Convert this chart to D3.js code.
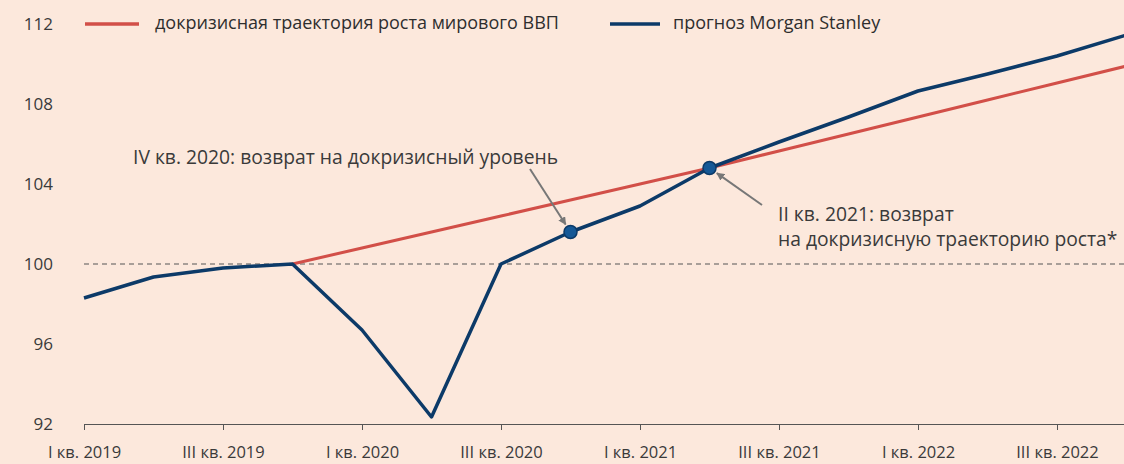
<!DOCTYPE html>
<html>
<head>
<meta charset="utf-8">
<script src="https://cdn.jsdelivr.net/npm/d3@7"></script>
<style>
  body { margin: 0; background: #fce8dc; }
  svg { display: block; font-family: "Open Sans", sans-serif; }
</style>
</head>
<body>
<svg id="chart" width="1124" height="464"></svg>
<script>
// Quartale I кв. 2019 – IV кв. 2022
const quarters = [
  "I кв. 2019", "II кв. 2019", "III кв. 2019", "IV кв. 2019",
  "I кв. 2020", "II кв. 2020", "III кв. 2020", "IV кв. 2020",
  "I кв. 2021", "II кв. 2021", "III кв. 2021", "IV кв. 2021",
  "I кв. 2022", "II кв. 2022", "III кв. 2022", "IV кв. 2022"
];

// прогноз Morgan Stanley
const forecast = [98.3, 99.35, 99.8, 100, 96.7, 92.35, 100, 101.6,
  102.9, 104.8, 106.1, 107.35, 108.65, 109.5, 110.4, 111.45];

// докризисная траектория (ab IV кв. 2019)
const preCrisis = [null, null, null, 100, 100.8, 101.6, 102.4, 103.2,
  104.0, 104.8, 105.65, 106.5, 107.35, 108.2, 109.05, 109.9];

const yTicks = [92, 96, 100, 104, 108, 112];
const xTickIdx = [0, 2, 4, 6, 8, 10, 12, 14];
const markers = [7, 9];

const seriesNames = ["докризисная траектория роста мирового ВВП", "прогноз Morgan Stanley"];
const notes = [
  ["IV кв. 2020: возврат на докризисный уровень"],
  ["II кв. 2021: возврат", "на докризисную траекторию роста*"]
];

const RED = "#d24f48";
const BLUE = "#0c3a68";
const TXT = "#3a3a3a";

const svg = d3.select("#chart");

const x = d3.scaleLinear().domain([0, 15]).range([84, 84 + 15 * 69.5]);
const y = d3.scaleLinear().domain([92, 112]).range([424, 24]);

// Y-Beschriftungen
svg.append("g").selectAll("text")
  .data(yTicks)
  .enter().append("text")
    .attr("x", 53)
    .attr("y", d => y(d))
    .attr("dy", "0.35em")
    .attr("text-anchor", "end")
    .attr("fill", TXT)
    .attr("font-size", 17)
    .text(d => d);

// Linie bei 100 gestrichelt
svg.append("line")
  .attr("x1", 84).attr("x2", 1124)
  .attr("y1", y(100)).attr("y2", y(100))
  .attr("stroke", "#555")
  .attr("stroke-width", 1)
  .attr("stroke-dasharray", "5,4");

// X-Achse
const xAxis = svg.append("g")
  .attr("transform", `translate(0,${y(92)})`)
  .call(d3.axisBottom(x)
    .tickValues(xTickIdx)
    .tickSize(6)
    .tickSizeOuter(0)
    .tickFormat(i => quarters[i]));
xAxis.select(".domain").attr("d", "M84,0.5H1124").attr("stroke", "#555");
xAxis.selectAll(".tick line").attr("stroke", "#555");
xAxis.selectAll("text")
  .attr("y", 22)
  .attr("fill", TXT)
  .attr("font-size", 16.5)
  .attr("font-family", "Open Sans, sans-serif");

const line = d3.line()
  .defined(d => d != null)
  .x((d, i) => x(i))
  .y(d => y(d));

svg.append("path")
  .datum(preCrisis)
  .attr("fill", "none")
  .attr("stroke", RED)
  .attr("stroke-width", 3)
  .attr("d", line);

svg.append("path")
  .datum(forecast)
  .attr("fill", "none")
  .attr("stroke", BLUE)
  .attr("stroke-width", 3.5)
  .attr("stroke-linejoin", "round")
  .attr("d", line);

svg.selectAll("circle.marker")
  .data(markers)
  .enter().append("circle")
    .attr("class", "marker")
    .attr("cx", i => x(i))
    .attr("cy", i => y(forecast[i]))
    .attr("r", 6.5)
    .attr("fill", "#155896")
    .attr("stroke", BLUE)
    .attr("stroke-width", 1.5);

// Pfeile
const defs = svg.append("defs");
defs.append("marker")
  .attr("id", "arrow")
  .attr("viewBox", "0 0 10 10")
  .attr("refX", 9).attr("refY", 5)
  .attr("markerWidth", 8).attr("markerHeight", 8)
  .attr("markerUnits", "userSpaceOnUse")
  .attr("orient", "auto")
  .append("path")
    .attr("d", "M0,0L10,5L0,10Z")
    .attr("fill", "#777");

function arrow(x1, y1, i) {
  // endet kurz vor dem Marker
  const tx = x(i), ty = y(forecast[i]);
  const dx = tx - x1, dy = ty - y1, len = Math.hypot(dx, dy);
  const k = (len - 9) / len;
  svg.append("line")
    .attr("x1", x1).attr("y1", y1)
    .attr("x2", x1 + dx * k).attr("y2", y1 + dy * k)
    .attr("stroke", "#777")
    .attr("stroke-width", 2)
    .attr("marker-end", "url(#arrow)");
}
arrow(530, 169, 7);
arrow(762, 205, 9);

// Annotationen
svg.append("text")
  .attr("x", 133).attr("y", 164)
  .attr("fill", TXT)
  .attr("font-size", 19.3)
  .text(notes[0][0]);

svg.append("text")
  .attr("fill", TXT)
  .attr("font-size", 19.3)
  .selectAll("tspan")
  .data(notes[1])
  .enter().append("tspan")
    .attr("x", 778)
    .attr("y", (d, i) => 221 + i * 25)
    .text(d => d);

// Legende
const legend = svg.append("g");
const legendPos = [{ x1: 85, x2: 139, tx: 155 }, { x1: 610, x2: 660, tx: 673 }];
[RED, BLUE].forEach((c, i) => {
  legend.append("line")
    .attr("x1", legendPos[i].x1).attr("x2", legendPos[i].x2)
    .attr("y1", 24).attr("y2", 24)
    .attr("stroke", c)
    .attr("stroke-width", 3.5);
  legend.append("text")
    .attr("x", legendPos[i].tx).attr("y", 23)
    .attr("dy", "0.35em")
    .attr("fill", "#2e2e2e")
    .attr("font-size", 18)
    .attr("font-weight", 500)
    .text(seriesNames[i]);
});
</script>
</body>
</html>
